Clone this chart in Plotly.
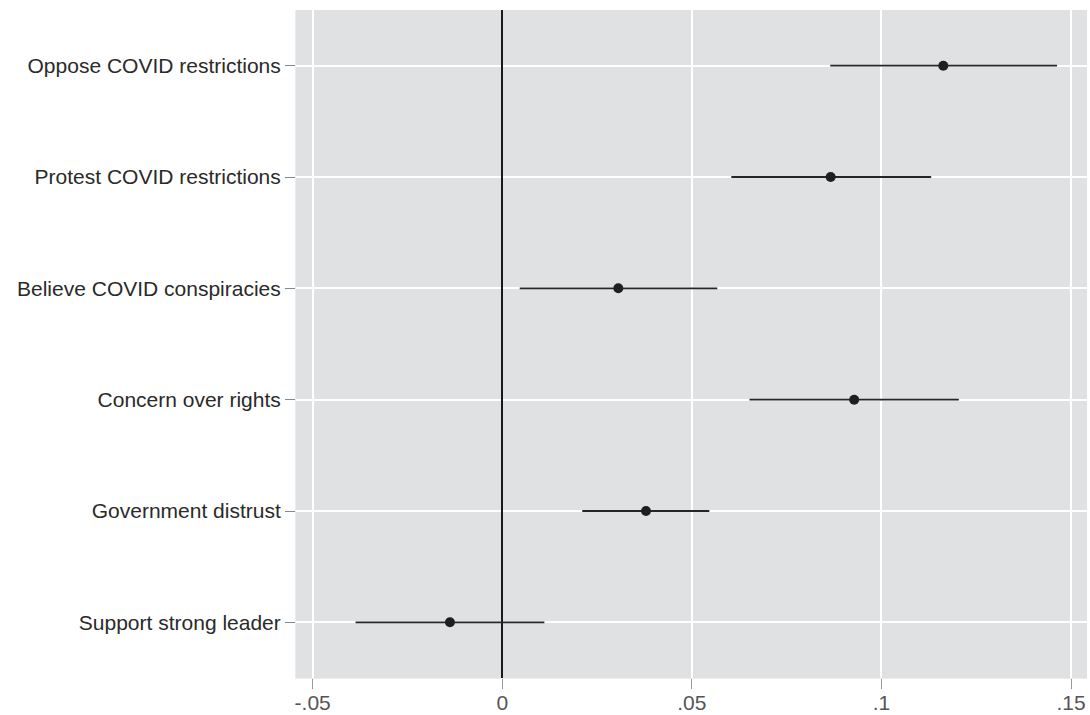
import plotly.graph_objects as go

categories = ["Oppose COVID restrictions", "Protest COVID restrictions", "Believe COVID conspiracies",
              "Concern over rights", "Government distrust", "Support strong leader"]
estimates = [0.1163, 0.0866, 0.0306, 0.0928, 0.0379, -0.0138]
ci_low = [0.0865, 0.0604, 0.0046, 0.0652, 0.0211, -0.0387]
ci_high = [0.1463, 0.1131, 0.0567, 0.1204, 0.0546, 0.0111]
x_tickvals = [-0.05, 0, 0.05, 0.1, 0.15]
x_ticktext = ["-.05", "0", ".05", ".1", ".15"]

err_plus = [h - e for h, e in zip(ci_high, estimates)]
err_minus = [e - l for e, l in zip(estimates, ci_low)]

fig = go.Figure()
fig.add_trace(go.Scatter(
    x=estimates, y=categories, mode="markers",
    marker=dict(size=10, color="#1f1f1f"),
    error_x=dict(type="data", symmetric=False, array=err_plus, arrayminus=err_minus,
                 width=0, thickness=1.8, color="#262626"),
    showlegend=False,
))

fig.update_layout(
    width=1090, height=715,
    margin=dict(l=296, r=3, t=10, b=37, autoexpand=False),
    paper_bgcolor="white", plot_bgcolor="#e0e1e3",
    font=dict(family="Liberation Sans, Arial, sans-serif"),
    xaxis=dict(range=[-0.0544, 0.1542], tickvals=x_tickvals, ticktext=x_ticktext,
               showgrid=True, gridcolor="white", gridwidth=1.5,
               zeroline=True, zerolinecolor="#1a1a1a", zerolinewidth=1.5,
               ticks="outside", ticklen=10, tickcolor="#999999", tickwidth=1,
               tickfont=dict(size=21, color="#555555"), automargin=False,
               ticklabelstandoff=-4,
               showline=True, linecolor="#ececec", linewidth=1),
    yaxis=dict(categoryorder="array", categoryarray=categories[::-1],
               range=[-0.5, 5.5], automargin=False,
               showgrid=True, gridcolor="white", gridwidth=1.5,
               ticks="outside", ticklen=10, tickcolor="#888888", tickwidth=1,
               tickfont=dict(size=21, color="#2a2a2a"),
               showline=True, linecolor="#ececec", linewidth=1),
)

fig.write_html("out.html")
